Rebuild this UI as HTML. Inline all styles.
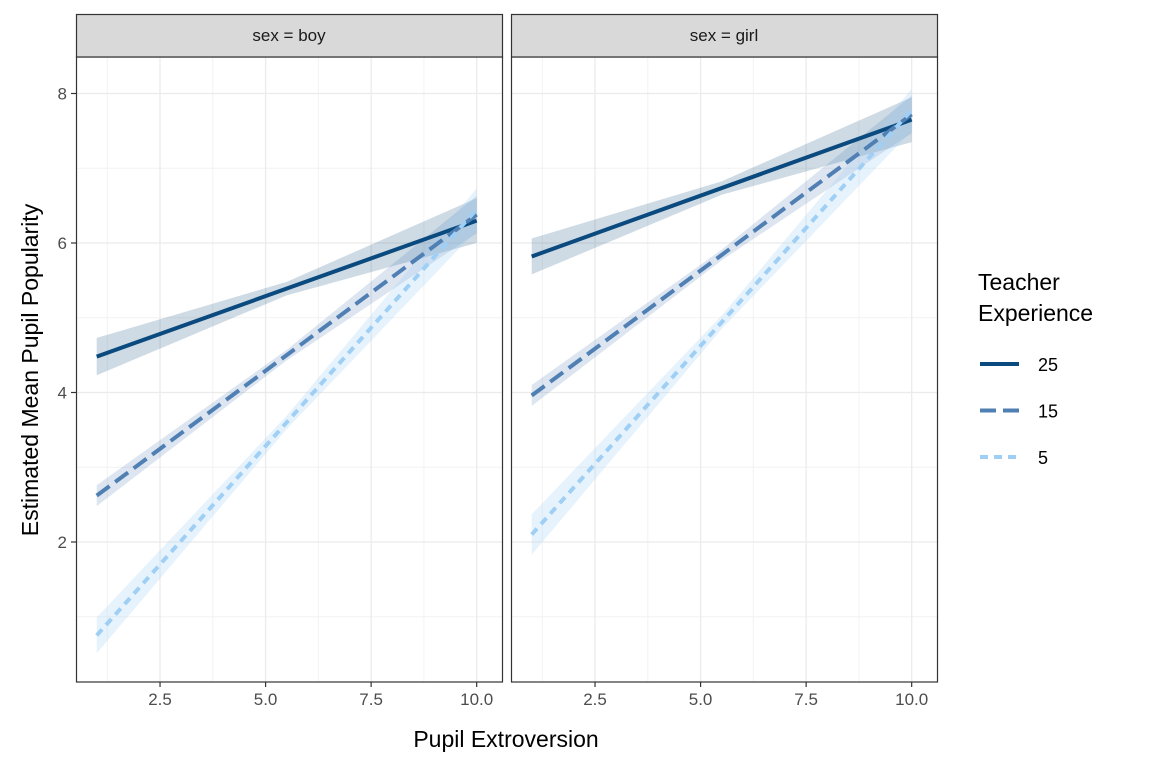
<!DOCTYPE html>
<html><head><meta charset="utf-8"><style>
body{margin:0;background:#fff;}
svg text{font-family:"Liberation Sans",Arial,sans-serif;}
</style></head><body>
<svg id="chart" width="1152" height="768" xmlns="http://www.w3.org/2000/svg"></svg>
<script>
const panels = ["boy","girl"];
const groups = ["25","15","5"];
const xStart = [1,1,1];
const xEnd = [10,10,10];
const boyStart = [4.48,2.62,0.75];
const boyEnd = [6.30,6.38,6.45];
const girlStart = [5.82,3.96,2.10];
const girlEnd = [7.65,7.72,7.78];
const boyCIStart = [0.25,0.14,0.24];
const boyCIMid = [0.09,0.07,0.09];
const boyCIEnd = [0.3,0.25,0.28];
const girlCIStart = [0.24,0.14,0.27];
const girlCIMid = [0.09,0.07,0.09];
const girlCIEnd = [0.3,0.25,0.28];
const xTicks = [2.5,5.0,7.5,10.0];
const xTickLabels = ["2.5","5.0","7.5","10.0"];
const yTicks = [2,4,6,8];
const yTickLabels = ["2","4","6","8"];

const NS="http://www.w3.org/2000/svg";
const svg=document.getElementById('chart');
function mk(tag,attrs,parent){const e=document.createElementNS(NS,tag);for(const k in attrs)e.setAttribute(k,attrs[k]);(parent||svg).appendChild(e);return e;}
const colors=["#0b4a7e","#4f7fb3","#9fcff5"];
const fills=["rgba(11,74,126,0.2)","rgba(79,127,179,0.2)","rgba(159,207,245,0.25)"];
const dashes=["none","16,7","8,6"];
const panelX=[76,511], pW=426, pTop=57, pBot=682;
function xs(p,v){return panelX[p]+20.7+(v-1)*42.22;}
function ys(v){return 542-(v-2)*74.75;}

panels.forEach((pn,p)=>{
  const x0=panelX[p];
  const g=mk('g',{});
  
  
  [1.25,3.75,6.25,8.75].forEach(v=>{mk('line',{x1:xs(p,v),x2:xs(p,v),y1:pTop,y2:pBot,stroke:'#f2f2f2','stroke-width':1},g);});
  [1,3,5,7].forEach(v=>{mk('line',{x1:x0,x2:x0+pW,y1:ys(v),y2:ys(v),stroke:'#f2f2f2','stroke-width':1},g);});
  xTicks.forEach(v=>{mk('line',{x1:xs(p,v),x2:xs(p,v),y1:pTop,y2:pBot,stroke:'#ebebeb','stroke-width':1.3},g);});
  yTicks.forEach(v=>{mk('line',{x1:x0,x2:x0+pW,y1:ys(v),y2:ys(v),stroke:'#ebebeb','stroke-width':1.3},g);});
  const S=p?girlStart:boyStart, E=p?girlEnd:boyEnd;
  const cs=p?girlCIStart:boyCIStart, cm=p?girlCIMid:boyCIMid, ce=p?girlCIEnd:boyCIEnd;
  groups.forEach((gr,i)=>{
    const xa=xStart[i], xb=xEnd[i], xm=(xa+xb)/2, ym=(S[i]+E[i])/2;
    const pts=[[xa,S[i]+cs[i]],[xm,ym+cm[i]],[xb,E[i]+ce[i]],[xb,E[i]-ce[i]],[xm,ym-cm[i]],[xa,S[i]-cs[i]]];
    const r=mk('path',{d:'M'+pts.map(q=>xs(p,q[0])+','+ys(q[1])).join('L')+'Z',fill:fills[i]},g);
    
    
  });
  groups.forEach((gr,i)=>{
    const l=mk('line',{x1:xs(p,xStart[i]),y1:ys(S[i]),x2:xs(p,xEnd[i]),y2:ys(E[i]),stroke:colors[i],'stroke-width':4,'stroke-dasharray':dashes[i]},g);
    
    
  });
  mk('rect',{x:x0+0.5,y:pTop,width:pW,height:pBot-pTop,fill:'none',stroke:'#333','stroke-width':1.2},g);
  const st=mk('rect',{x:x0+0.5,y:14.5,width:pW,height:42.5,fill:'#d9d9d9',stroke:'#333','stroke-width':1.2},g);
  
  
  const stt=mk('text',{x:x0+pW/2,y:41,'text-anchor':'middle','font-size':17,fill:'#1a1a1a'},g);
  stt.textContent='sex = '+pn;
  
  
  xTicks.forEach((v,k)=>{
    mk('line',{x1:xs(p,v),x2:xs(p,v),y1:pBot,y2:pBot+5,stroke:'#333','stroke-width':1.2},g);
    const t=mk('text',{x:xs(p,v),y:pBot+23,'text-anchor':'middle','font-size':17,fill:'#4d4d4d'},g);
    t.textContent=xTickLabels[k];
    
    
  });
});
yTicks.forEach((v,k)=>{
  mk('line',{x1:71,x2:76,y1:ys(v),y2:ys(v),stroke:'#333','stroke-width':1.2});
  const t=mk('text',{x:67,y:ys(v)+6,'text-anchor':'end','font-size':17,fill:'#4d4d4d'});
  t.textContent=yTickLabels[k];
  
  
});
const xt=mk('text',{x:506,y:747,'text-anchor':'middle','font-size':23,fill:'#000'});
xt.textContent='Pupil Extroversion';


const yt=mk('text',{x:0,y:0,transform:'translate(38,370) rotate(-90)','text-anchor':'middle','font-size':23,fill:'#000'});
yt.textContent='Estimated Mean Pupil Popularity';


const lt1=mk('text',{x:978,y:290,'font-size':23,fill:'#000'});lt1.textContent='Teacher';


const lt2=mk('text',{x:978,y:321,'font-size':23,fill:'#000'});lt2.textContent='Experience';


groups.forEach((gr,i)=>{
  const y=364+i*46.5;
  const l=mk('line',{x1:980,x2:1019,y1:y,y2:y,stroke:colors[i],'stroke-width':4,'stroke-dasharray':dashes[i]});
  
  
  const t=mk('text',{x:1038,y:y+7,'font-size':18,fill:'#000'});t.textContent=gr;
  
  
});
</script>
</body></html>
